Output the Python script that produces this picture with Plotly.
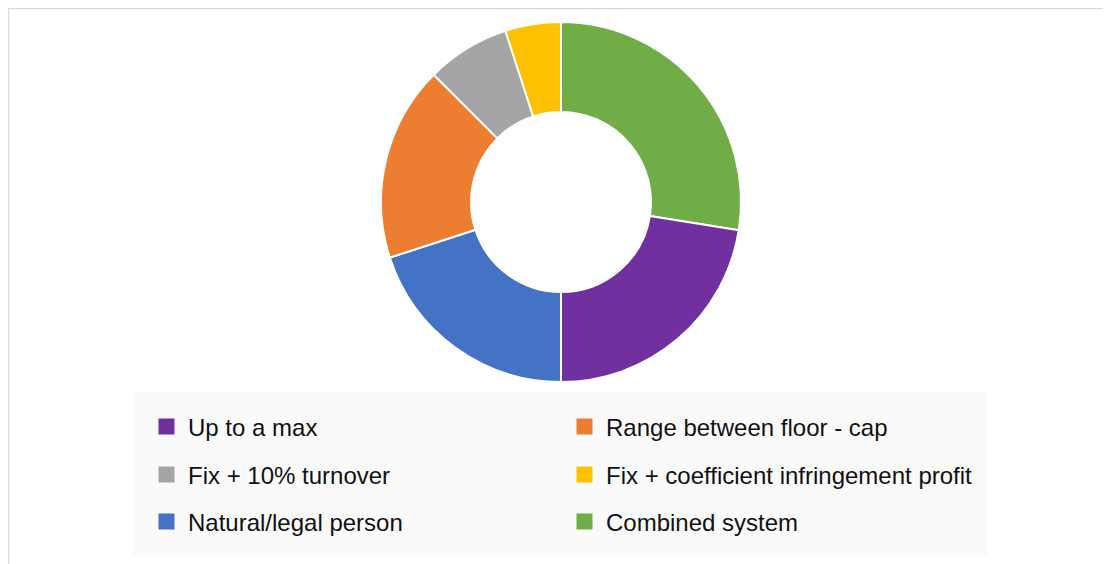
import plotly.graph_objects as go

# Slice order (clockwise from 12 o'clock)
slice_labels = ["Combined system", "Up to a max", "Natural/legal person",
                "Range between floor - cap", "Fix + 10% turnover",
                "Fix + coefficient infringement profit"]
slice_values = [11, 9, 8, 7, 3, 2]
slice_colors = ["#70ad47", "#7030a0", "#4472c4", "#ed7d31", "#a5a5a5", "#ffc000"]

# Legend order (row-wise, two columns)
legend_labels = ["Up to a max", "Range between floor - cap",
                 "Fix + 10% turnover", "Fix + coefficient infringement profit",
                 "Natural/legal person", "Combined system"]

OFF = 8  # page body margin
W, H = 1111 - OFF, 564 - OFF


def px(x):
    return (x - OFF) / W


def py(y):
    return 1 - (y - OFF) / H


color_of = dict(zip(slice_labels, slice_colors))

fig = go.Figure()
fig.add_trace(go.Pie(
    labels=slice_labels, values=slice_values, sort=False,
    direction="clockwise", rotation=0, hole=0.5,
    marker=dict(colors=slice_colors, line=dict(color="white", width=2)),
    textinfo="none", showlegend=False,
    domain=dict(x=[px(381), px(741)], y=[py(382), py(22)]),
))

legend_names = ["legend", "legend2", "legend3"]
for i, lab in enumerate(legend_labels):
    fig.add_trace(go.Scatter(
        x=[None], y=[None], mode="markers", name=lab,
        marker=dict(symbol="square", size=17, color=color_of[lab]),
        legend=legend_names[i // 2],
    ))

row_y = [427, 475, 522]
leg_common = dict(orientation="h", xanchor="left", yanchor="middle",
                  bgcolor="rgba(0,0,0,0)", entrywidth=370, itemwidth=33,
                  font=dict(family="Liberation Sans, Arial, sans-serif", size=24, color="#111111"),
                  itemsizing="trace")
layout_legends = {}
for name, yy in zip(legend_names, row_y):
    layout_legends[name] = dict(leg_common, x=px(145), y=py(yy))

fig.update_layout(
    width=W, height=H,
    margin=dict(l=0, r=0, t=0, b=0),
    paper_bgcolor="white", plot_bgcolor="white",
    xaxis=dict(visible=False), yaxis=dict(visible=False),
    shapes=[
        dict(type="rect", xref="paper", yref="paper",
             x0=px(133), x1=px(988), y0=py(556), y1=py(392),
             fillcolor="#fafafa", line=dict(width=0), layer="below"),
        dict(type="rect", xref="paper", yref="paper",
             x0=px(8.5), x1=1.02, y0=-0.02, y1=py(8.5),
             fillcolor="rgba(0,0,0,0)", line=dict(color="#d9d9d9", width=1.5), layer="below"),
    ],
    **layout_legends,
)

fig.write_html("out.html")
